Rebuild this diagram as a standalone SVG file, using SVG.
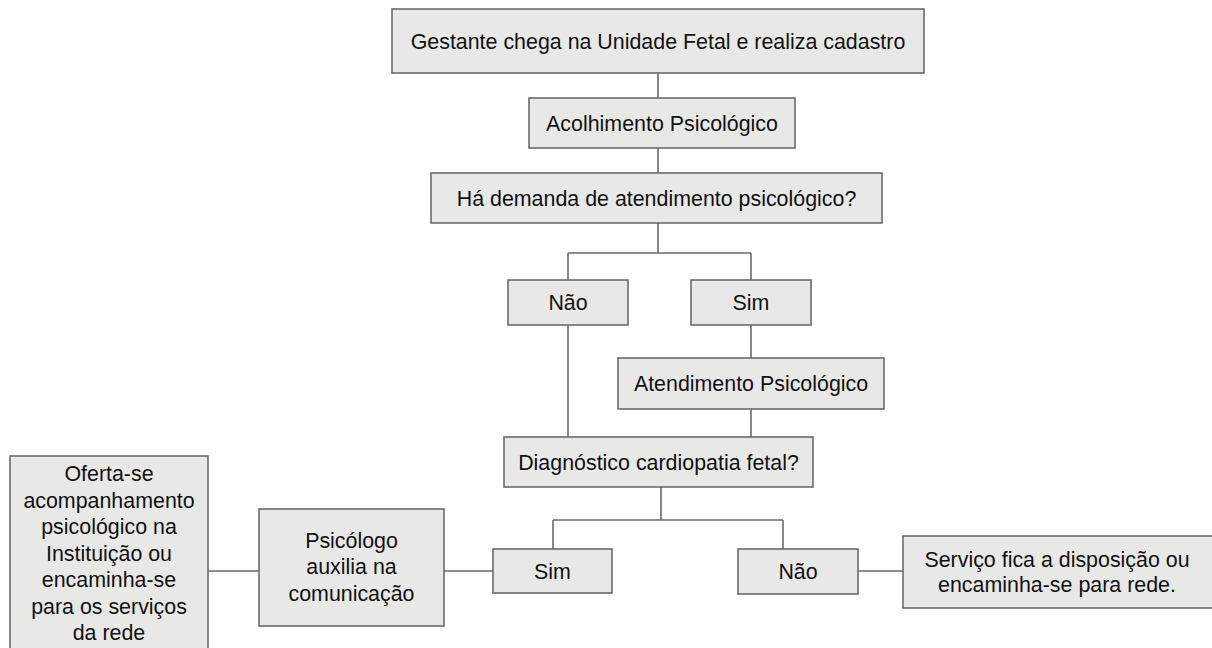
<svg xmlns="http://www.w3.org/2000/svg" width="1212" height="648" viewBox="0 0 1212 648">
<style>
.box{fill:#e8e9e7;stroke:#6b6b6b;stroke-width:1.6}
.t{font-family:"Liberation Sans",Arial,sans-serif;font-size:21.4px;fill:#111;text-anchor:middle}
.c{fill:none;stroke:#6b6b6b;stroke-width:1.6}
</style>
<rect width="1212" height="648" fill="#fff"/>
<g id="connectors">
<path class="c" d="M658 73V98M658 148V173M658 223V253M568 253H751M568 253V280M751 253V280M751 325V358M751 409V437M568 325V437M661 487V520M553 520H783M553 520V549M783 520V549M858 571H903M444 571H493M208 571H259"/>
</g>
<g id="n1"><rect class="box" x="392" y="9" width="532" height="64"/><text class="t" x="658" y="49">Gestante chega na Unidade Fetal e realiza cadastro</text></g>
<g id="n2"><rect class="box" x="529" y="98" width="266" height="50"/><text class="t" x="662" y="131">Acolhimento Psicológico</text></g>
<g id="n3"><rect class="box" x="431" y="173" width="451" height="50"/><text class="t" x="656.5" y="206">Há demanda de atendimento psicológico?</text></g>
<g id="n4"><rect class="box" x="508" y="280" width="120" height="45"/><text class="t" x="568" y="310">Não</text></g>
<g id="n5"><rect class="box" x="691" y="280" width="120" height="45"/><text class="t" x="751" y="310">Sim</text></g>
<g id="n6"><rect class="box" x="618" y="358" width="266" height="51"/><text class="t" x="751" y="391">Atendimento Psicológico</text></g>
<g id="n7"><rect class="box" x="504" y="437" width="309" height="50"/><text class="t" x="658.5" y="470">Diagnóstico cardiopatia fetal?</text></g>
<g id="n8"><rect class="box" x="493" y="549" width="119" height="44"/><text class="t" x="552.5" y="578.5">Sim</text></g>
<g id="n9"><rect class="box" x="738" y="549" width="120" height="45"/><text class="t" x="798" y="579">Não</text></g>
<g id="n10"><rect class="box" x="903" y="536" width="312" height="72"/><text class="t" x="1057" y="566.5">Serviço fica a disposição ou</text><text class="t" x="1057" y="592">encaminha-se para rede.</text></g>
<g id="n11"><rect class="box" x="259" y="509" width="185" height="117"/><text class="t" x="351.5" y="548">Psicólogo</text><text class="t" x="351.5" y="574">auxilia na</text><text class="t" x="351.5" y="600.5">comunicação</text></g>
<g id="n12"><rect class="box" x="10" y="456" width="198" height="200"/><text class="t" x="109" y="481">Oferta-se</text><text class="t" x="109" y="507.5">acompanhamento</text><text class="t" x="109" y="534">psicológico na</text><text class="t" x="109" y="560.5">Instituição ou</text><text class="t" x="109" y="587">encaminha-se</text><text class="t" x="109" y="613.5">para os serviços</text><text class="t" x="109" y="640">da rede</text></g>
</svg>
